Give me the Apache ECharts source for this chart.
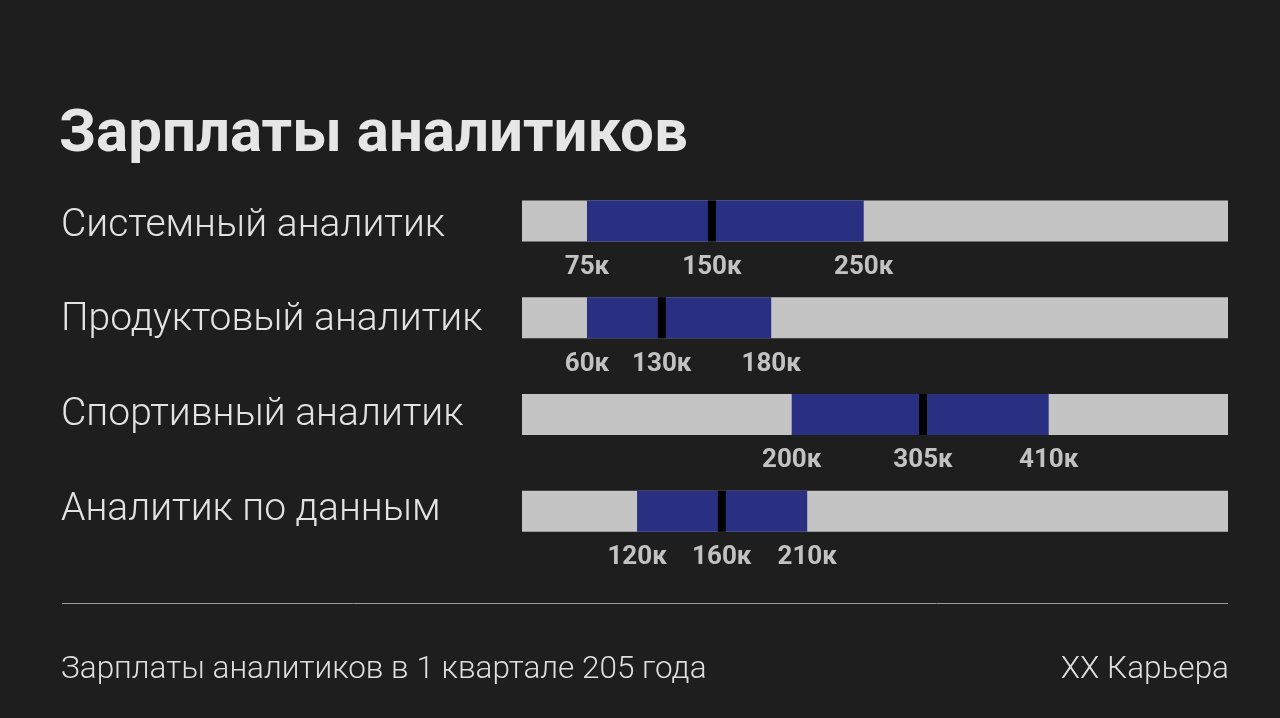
<!DOCTYPE html>
<html>
<head>
<meta charset="utf-8">
<script src="https://cdn.jsdelivr.net/npm/echarts@6/dist/echarts.min.js"></script>
<style>
html,body{margin:0;padding:0;background:#1e1e1e;}
#c{width:1280px;height:718px;}
</style>
</head>
<body>
<div id="c"></div>
<script>
// Categories (rows)
const roles = ['Системный аналитик', 'Продуктовый аналитик', 'Спортивный аналитик', 'Аналитик по данным'];
// Salary values, thousand ₽ (shown as labels)
const lowSalary = [75, 60, 200, 120];
const medianSalary = [150, 130, 305, 160];
const highSalary = [250, 180, 410, 210];
// Where each value sits along the track, % of track length (the track is not to scale)
const lowPos = [9.2, 9.2, 38.2, 16.3];
const medianPos = [26.9, 19.8, 56.8, 28.3];
const highPos = [48.4, 35.3, 74.6, 40.4];
const trackMax = 100;

const titleText = 'Зарплаты аналитиков';
const footnote = 'Зарплаты аналитиков в 1 квартале 205 года';
const source = 'ХХ Карьера';

const fmt = v => v + 'к';

const chart = echarts.init(document.getElementById('c'), null, {renderer: 'canvas'});

const labelData = [];
roles.forEach((r, i) => {
  labelData.push([lowPos[i], i, fmt(lowSalary[i])]);
  labelData.push([medianPos[i], i, fmt(medianSalary[i])]);
  labelData.push([highPos[i], i, fmt(highSalary[i])]);
});

const option = {
  backgroundColor: '#1e1e1e',
  animation: false,
  textStyle: {fontFamily: 'Roboto'},
  title: [
    {text: titleText, left: 59, top: 106, padding: 0,
     textStyle: {color: '#e6e6e6', fontSize: 60, fontWeight: 'bold', fontFamily: 'Roboto'}},
    {text: footnote, left: 61, top: 654, padding: 0,
     textStyle: {color: '#dedede', fontSize: 31.5, fontWeight: 300, fontFamily: 'Roboto'}},
    {text: source, right: 51, top: 654, padding: 0,
     textStyle: {color: '#dedede', fontSize: 31.5, fontWeight: 300, fontFamily: 'Roboto'}}
  ],
  graphic: [
    {type: 'line', shape: {x1: 62, y1: 603.5, x2: 1228, y2: 603.5},
     style: {stroke: '#9a9a9a', lineWidth: 1}}
  ],
  grid: [
    {left: 522, right: 52, top: 172.6, height: 387, containLabel: false},
    {left: 522, right: 52, top: 178.6, height: 379, containLabel: false}
  ],
  xAxis: [
    {type: 'value', min: 0, max: trackMax, show: false, gridIndex: 0},
    {type: 'value', min: 0, max: trackMax, show: false, gridIndex: 1}
  ],
  yAxis: [
    {type: 'category', data: roles, inverse: true, gridIndex: 0,
     axisLine: {show: false}, axisTick: {show: false}, splitLine: {show: false},
     axisLabel: {show: false}},
    {type: 'category', data: roles, inverse: true, gridIndex: 1,
     axisLine: {show: false}, axisTick: {show: false}, splitLine: {show: false},
     axisLabel: {align: 'left', margin: 461, color: '#e2e2e2', fontSize: 39,
                 fontWeight: 300, fontFamily: 'Roboto'}}
  ],
  series: [
    {name: 'track', type: 'bar', data: roles.map(() => trackMax), barWidth: 41,
     barGap: '-100%', itemStyle: {color: '#c4c4c4'}, silent: true, z: 1},
    {name: 'base', type: 'bar', stack: 'r', data: lowPos, barWidth: 41, barGap: '-100%',
     itemStyle: {color: 'transparent'}, silent: true, z: 2},
    {name: 'range', type: 'bar', stack: 'r', data: highPos.map((h, i) => +(h - lowPos[i]).toFixed(2)),
     barWidth: 41, barGap: '-100%', itemStyle: {color: '#293081'}, z: 2},
    {name: 'median', type: 'scatter', data: medianPos.map((m, i) => [m, i]),
     symbol: 'rect', symbolSize: [8, 41], itemStyle: {color: '#000000', opacity: 1}, z: 3},
    {name: 'labels', type: 'scatter', data: labelData, symbol: 'rect', symbolSize: [1, 41],
     itemStyle: {color: 'rgba(0,0,0,0)'}, z: 4,
     label: {show: true, position: 'bottom', distance: 13, formatter: p => p.data[2],
             color: '#ebebeb', fontSize: 26, fontWeight: 'bold', fontFamily: 'Roboto'}}
  ]
};
chart.setOption(option);
</script>
</body>
</html>
